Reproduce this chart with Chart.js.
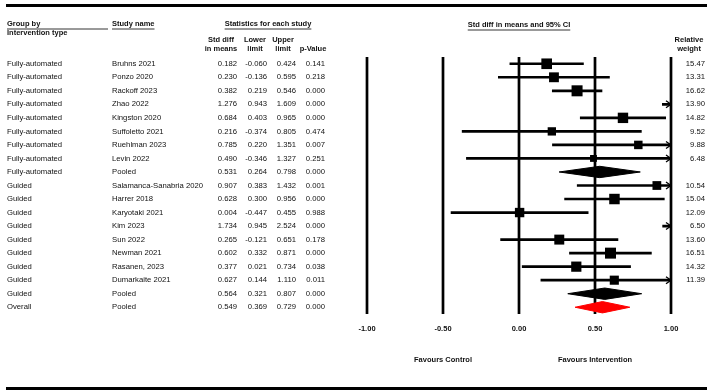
<!DOCTYPE html>
<html>
<head>
<meta charset="utf-8">
<script src="https://cdn.jsdelivr.net/npm/chart.js@4.4.1/dist/chart.umd.min.js"></script>
<style>
  body { margin: 0; background: #fff; }
</style>
</head>
<body>
<canvas id="forest" width="709" height="392"></canvas>
<script>
const groups = ['Fully-automated', 'Fully-automated', 'Fully-automated', 'Fully-automated', 'Fully-automated',
  'Fully-automated', 'Fully-automated', 'Fully-automated', 'Fully-automated',
  'Guided', 'Guided', 'Guided', 'Guided', 'Guided', 'Guided', 'Guided', 'Guided', 'Guided', 'Overall'];
const studies = ['Bruhns 2021', 'Ponzo 2020', 'Rackoff 2023', 'Zhao 2022', 'Kingston 2020', 'Suffoletto 2021',
  'Ruehlman 2023', 'Levin 2022', 'Pooled', 'Salamanca-Sanabria 2020', 'Harrer 2018', 'Karyotaki 2021',
  'Kim 2023', 'Sun 2022', 'Newman 2021', 'Rasanen, 2023', 'Dumarkaite 2021', 'Pooled', 'Pooled'];
const effects = [0.182, 0.230, 0.382, 1.276, 0.684, 0.216, 0.785, 0.490, 0.531,
  0.907, 0.628, 0.004, 1.734, 0.265, 0.602, 0.377, 0.627, 0.564, 0.549];
const lowers = [-0.060, -0.136, 0.219, 0.943, 0.403, -0.374, 0.220, -0.346, 0.264,
  0.383, 0.300, -0.447, 0.945, -0.121, 0.332, 0.021, 0.144, 0.321, 0.369];
const uppers = [0.424, 0.595, 0.546, 1.609, 0.965, 0.805, 1.351, 1.327, 0.798,
  1.432, 0.956, 0.455, 2.524, 0.651, 0.871, 0.734, 1.110, 0.807, 0.729];
const pValues = [0.141, 0.218, 0.000, 0.000, 0.000, 0.474, 0.007, 0.251, 0.000,
  0.001, 0.000, 0.988, 0.000, 0.178, 0.000, 0.038, 0.011, 0.000, 0.000];
const weights = [15.47, 13.31, 16.62, 13.90, 14.82, 9.52, 9.88, 6.48, null,
  10.54, 15.04, 12.09, 6.50, 13.60, 16.51, 14.32, 11.39, null, null];
const xTicks = [-1, -0.5, 0, 0.5, 1];
const xTickLabels = ['-1.00', '-0.50', '0.00', '0.50', '1.00'];

const FONT = "'Liberation Sans', Arial, sans-serif";
const rows = studies.map((s, i) => i);
const studyRows = rows.filter(i => weights[i] !== null);
const pooledRows = rows.filter(i => weights[i] === null);

// confidence intervals as thin floating bars
const ciData = studyRows.map(i => ({ x: [lowers[i], uppers[i]], y: i }));
const squareData = studyRows.map(i => ({ x: effects[i], y: i, w: weights[i] }));

const diamondSets = pooledRows.map(i => {
  const color = groups[i] === 'Overall' ? '#ff0000' : '#000000';
  return {
    type: 'line',
    data: [
      { x: lowers[i], y: i },
      { x: effects[i], y: i - 0.42 },
      { x: uppers[i], y: i },
      { x: effects[i], y: i + 0.42 },
      { x: lowers[i], y: i }
    ],
    borderColor: color,
    backgroundColor: color,
    borderWidth: 1,
    pointRadius: 0,
    fill: 'shape',
    tension: 0,
    clip: 10
  };
});

const tablePlugin = {
  id: 'forestTable',
  beforeDatasetsDraw(chart) {
    const { ctx, chartArea, scales: { x } } = chart;
    ctx.save();
    ctx.strokeStyle = '#000';
    ctx.lineWidth = 2.7;
    xTicks.forEach(v => {
      const px = Math.round(x.getPixelForValue(v));
      ctx.beginPath();
      ctx.moveTo(px, chartArea.top);
      ctx.lineTo(px, chartArea.bottom);
      ctx.stroke();
    });
    ctx.restore();
  },
  afterDatasetsDraw(chart) {
    const { ctx, chartArea, scales: { x, y } } = chart;
    ctx.save();

    // arrows where the interval runs past the axis
    ctx.strokeStyle = '#000';
    ctx.lineWidth = 1.3;
    studyRows.forEach(i => {
      if (uppers[i] > x.max) {
        const tip = x.getPixelForValue(x.max);
        const py = y.getPixelForValue(i);
        ctx.beginPath();
        ctx.moveTo(tip - 5, py - 3.5);
        ctx.lineTo(tip, py);
        ctx.lineTo(tip - 5, py + 3.5);
        ctx.stroke();
      }
    });

    // heavy rules
    ctx.lineWidth = 3;
    ctx.beginPath();
    ctx.moveTo(6, 5.5); ctx.lineTo(707, 5.5);
    ctx.moveTo(6, 388.5); ctx.lineTo(707, 388.5);
    ctx.stroke();

    ctx.fillStyle = '#111';
    ctx.textBaseline = 'middle';

    const underline = (text, x0, y0, align, minEnd) => {
      ctx.textAlign = align;
      ctx.fillText(text, x0, y0);
      const w = ctx.measureText(text).width;
      const left = align === 'center' ? x0 - w / 2 : x0;
      const right = Math.max(left + w, minEnd || 0);
      ctx.lineWidth = 0.8;
      ctx.beginPath();
      ctx.moveTo(left, y0 + 5);
      ctx.lineTo(right, y0 + 5);
      ctx.stroke();
    };

    ctx.font = 'bold 7.5px ' + FONT;
    underline('Group by', 7, 24, 'left', 108);
    ctx.textAlign = 'left';
    ctx.fillText('Intervention type', 7, 33);
    underline('Study name', 112, 24, 'left');
    underline('Statistics for each study', 268, 24, 'center');
    underline('Std diff in means and 95% CI', 519, 25, 'center');

    ctx.textAlign = 'center';
    ctx.fillText('Std diff', 221, 40);
    ctx.fillText('in means', 221, 49);
    ctx.fillText('Lower', 255, 40);
    ctx.fillText('limit', 255, 49);
    ctx.fillText('Upper', 283, 40);
    ctx.fillText('limit', 283, 49);
    ctx.fillText('p-Value', 313, 49);
    ctx.fillText('Relative', 689, 40);
    ctx.fillText('weight', 689, 49);

    // row text
    ctx.font = '7.7px ' + FONT;
    rows.forEach(i => {
      const py = y.getPixelForValue(i);
      ctx.textAlign = 'left';
      ctx.fillText(groups[i], 7, py);
      ctx.fillText(studies[i], 112, py);
      ctx.textAlign = 'right';
      ctx.fillText(effects[i].toFixed(3), 237, py);
      ctx.fillText(lowers[i].toFixed(3), 267, py);
      ctx.fillText(uppers[i].toFixed(3), 296, py);
      ctx.fillText(pValues[i].toFixed(3), 325, py);
      if (weights[i] !== null) ctx.fillText(weights[i].toFixed(2), 705, py);
    });

    // axis tick labels and direction labels
    ctx.font = 'bold 7.5px ' + FONT;
    ctx.textAlign = 'center';
    xTicks.forEach((v, k) => {
      ctx.fillText(xTickLabels[k], x.getPixelForValue(v), chartArea.bottom + 15);
    });
    ctx.fillText('Favours Control', x.getPixelForValue(-0.5), chartArea.bottom + 46);
    ctx.fillText('Favours Intervention', x.getPixelForValue(0.5), chartArea.bottom + 46);

    ctx.restore();
  }
};

new Chart(document.getElementById('forest'), {
  type: 'scatter',
  data: {
    datasets: [
      {
        type: 'bar',
        indexAxis: 'y',
        data: ciData,
        backgroundColor: '#000',
        borderWidth: 0,
        barThickness: 2,
        clip: 0
      },
      {
        type: 'scatter',
        data: squareData,
        pointStyle: 'rect',
        pointRadius: ctx => (2.7 * Math.sqrt(ctx.raw.w)) / 1.414,
        pointHoverRadius: ctx => (2.7 * Math.sqrt(ctx.raw.w)) / 1.414,
        backgroundColor: '#000',
        borderWidth: 0,
        clip: { left: 20, top: 20, right: 0, bottom: 20 }
      },
      ...diamondSets
    ]
  },
  options: {
    responsive: false,
    animation: false,
    events: [],
    layout: { padding: { left: 367, right: 38, top: 57, bottom: 78 } },
    plugins: { legend: { display: false }, tooltip: { enabled: false } },
    scales: {
      x: { type: 'linear', min: -1, max: 1, display: false, offset: false },
      y: { type: 'linear', min: -0.5, max: 18.5, reverse: true, display: false, offset: false }
    }
  },
  plugins: [tablePlugin]
});
</script>
</body>
</html>
